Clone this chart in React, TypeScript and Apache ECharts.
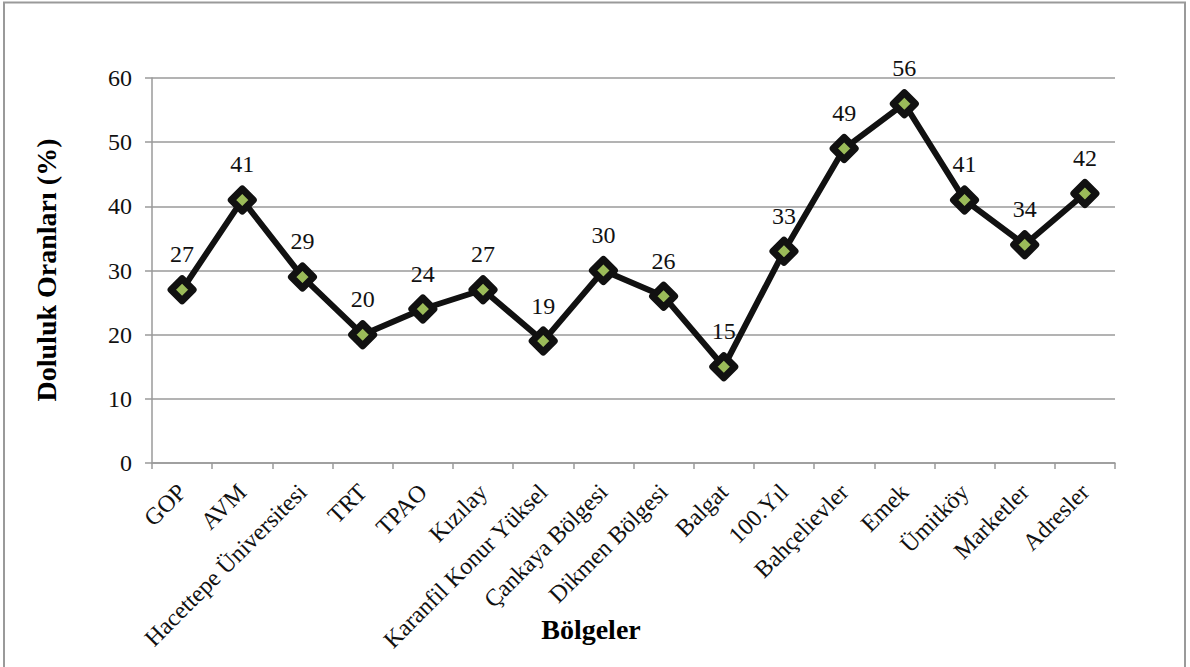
import React, { useEffect, useRef } from "react";
import * as echarts from "echarts";

const categories = [
  "GOP", "AVM", "Hacettepe Üniversitesi", "TRT", "TPAO", "Kızılay",
  "Karanfil Konur Yüksel", "Çankaya Bölgesi", "Dikmen Bölgesi", "Balgat",
  "100.Yıl", "Bahçelievler", "Emek", "Ümitköy", "Marketler", "Adresler",
];
const values = [27, 41, 29, 20, 24, 27, 19, 30, 26, 15, 33, 49, 56, 41, 34, 42];
const xTitle = "Bölgeler";
const yTitle = "Doluluk Oranları (%)";

const FONT = "'Liberation Serif', 'Times New Roman', serif";

export default function App() {
  const ref = useRef<HTMLDivElement>(null);
  useEffect(() => {
    if (!ref.current) return;
    const chart = echarts.init(ref.current, null, { renderer: "svg" });
    chart.setOption({
      animation: false,
      backgroundColor: "#fff",
      graphic: [
        {
          type: "rect",
          shape: { x: 4, y: 2.5, width: 1181, height: 700 },
          style: { fill: "none", stroke: "#9a9a9a", lineWidth: 2 },
          silent: true,
        },
        {
          type: "text",
          x: 591,
          y: 629,
          style: {
            text: xTitle,
            font: `bold 28px ${FONT}`,
            fill: "#000",
            textAlign: "center",
            textVerticalAlign: "middle",
          },
          silent: true,
        },
        {
          type: "text",
          x: 46,
          y: 270,
          rotation: Math.PI / 2,
          style: {
            text: yTitle,
            font: `bold 28px ${FONT}`,
            fill: "#000",
            textAlign: "center",
            textVerticalAlign: "middle",
          },
          silent: true,
        },
      ],
      grid: { left: 152, right: 75, top: 78, bottom: 204, containLabel: false },
      xAxis: {
        type: "category",
        data: categories,
        boundaryGap: true,
        axisLine: { show: true, lineStyle: { color: "#9a9a9a", width: 1.5 } },
        axisTick: { show: true, inside: false, length: 6, alignWithLabel: false, lineStyle: { color: "#9a9a9a", width: 1.5 } },
        axisLabel: {
          interval: 0,
          rotate: 45,
          margin: 25,
          fontFamily: FONT,
          fontSize: 24,
          color: "#111",
        },
        splitLine: { show: false },
      },
      yAxis: {
        type: "value",
        min: 0,
        max: 60,
        interval: 10,
        axisLine: { show: true, lineStyle: { color: "#9a9a9a", width: 1.5 } },
        axisTick: { show: true, inside: false, length: 7, lineStyle: { color: "#9a9a9a", width: 1.5 } },
        axisLabel: { fontFamily: FONT, fontSize: 24, color: "#111", margin: 20 },
        splitLine: { show: true, lineStyle: { color: "#9a9a9a", width: 1.5 } },
      },
      series: [
        {
          type: "line",
          data: values,
          symbol: "diamond",
          symbolSize: 22,
          lineStyle: { color: "#111", width: 6 },
          itemStyle: { color: "#9bbb59", borderColor: "#111", borderWidth: 7, borderJoin: "round" },
          label: {
            show: true,
            position: "top",
            distance: 9,
            fontFamily: FONT,
            fontSize: 24,
            color: "#111",
          },
        },
      ],
    });
    return () => chart.dispose();
  }, []);
  return (
    <div
      ref={ref}
      style={{ position: "fixed", left: 0, top: 0, width: 1190, height: 667 }}
    />
  );
}
